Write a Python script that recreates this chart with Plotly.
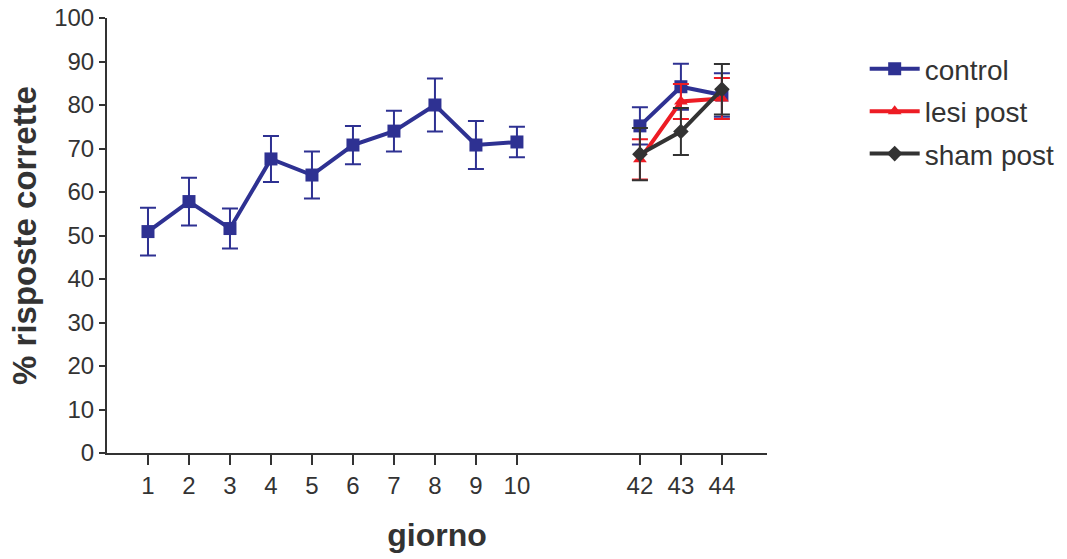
import plotly.graph_objects as go

# Training days and the post-surgery test days
days_training = [1, 2, 3, 4, 5, 6, 7, 8, 9, 10]
days_post = [42, 43, 44]

# % correct responses (mean and SEM)
control_train_mean = [50.9, 57.8, 51.6, 67.6, 63.9, 70.8, 74.0, 80.0, 70.8, 71.5]
control_train_sem = [5.5, 5.5, 4.6, 5.3, 5.4, 4.4, 4.7, 6.1, 5.5, 3.5]
control_post_mean = [75.2, 84.2, 82.3]
control_post_sem = [4.3, 5.3, 5.0]

lesi_mean = [67.5, 80.8, 81.5]
lesi_sem = [4.6, 4.0, 4.7]

sham_mean = [68.7, 73.9, 83.6]
sham_sem = [6.0, 5.4, 5.8]

BREAK_SHIFT = 29  # days 11..41 are compressed into a gap on the x axis


def axis_pos(day):
    return day if day <= 10 else day - BREAK_SHIFT


BLUE = "#2E3192"
RED = "#ED1C24"
DARK = "#333333"
FONT = "Liberation Sans, Arial, sans-serif"

fig = go.Figure()


def add_segment(name, days, mean, sem, color, symbol, size, show):
    fig.add_trace(go.Scatter(
        x=[axis_pos(d) for d in days],
        y=mean,
        mode="lines+markers",
        name=name,
        legendgroup=name,
        line=dict(color=color, width=4),
        marker=dict(color=color, symbol=symbol, size=size),
        error_y=dict(type="data", array=sem, color=color, thickness=2, width=8),
        showlegend=show,
    ))


add_segment("control", days_training, control_train_mean, control_train_sem, BLUE, "square", 13, True)
add_segment("control", days_post, control_post_mean, control_post_sem, BLUE, "square", 13, False)
add_segment("lesi post", days_post, lesi_mean, lesi_sem, RED, "triangle-up", 12, True)
add_segment("sham post", days_post, sham_mean, sham_sem, DARK, "diamond", 12, True)

tick_days = days_training + days_post

fig.update_layout(
    width=1067,
    height=559,
    margin=dict(l=107, r=300, t=18, b=106, autoexpand=False),
    paper_bgcolor="white",
    plot_bgcolor="white",
    font=dict(family=FONT, color=DARK),
    legend=dict(
        x=1.148, y=0.94, xanchor="left", yanchor="top",
        font=dict(size=28, color=DARK, family=FONT),
        itemwidth=50,
        tracegroupgap=3,
        bgcolor="rgba(0,0,0,0)",
    ),
    xaxis=dict(
        range=[0, 16.1],
        tickvals=[axis_pos(d) for d in tick_days],
        ticktext=[str(d) for d in tick_days],
        ticks="outside", ticklen=10, tickwidth=1.5, tickcolor=DARK,
        showline=True, linecolor=DARK, linewidth=2,
        showgrid=False, zeroline=False,
        tickfont=dict(size=24, color=DARK, family=FONT),
        title=dict(text="<b>giorno</b>", font=dict(size=32, color=DARK, family=FONT), standoff=26),
    ),
    yaxis=dict(
        range=[0, 100],
        tickvals=[0, 10, 20, 30, 40, 50, 60, 70, 80, 90, 100],
        ticks="outside", ticklen=6, tickwidth=1.5, tickcolor=DARK,
        showline=True, linecolor=DARK, linewidth=2,
        showgrid=False, zeroline=False,
        tickfont=dict(size=24, color=DARK, family=FONT),
        title=dict(text="<b>% risposte corrette</b>", font=dict(size=33, color=DARK, family=FONT), standoff=8),
    ),
)

fig.write_html("out.html")
